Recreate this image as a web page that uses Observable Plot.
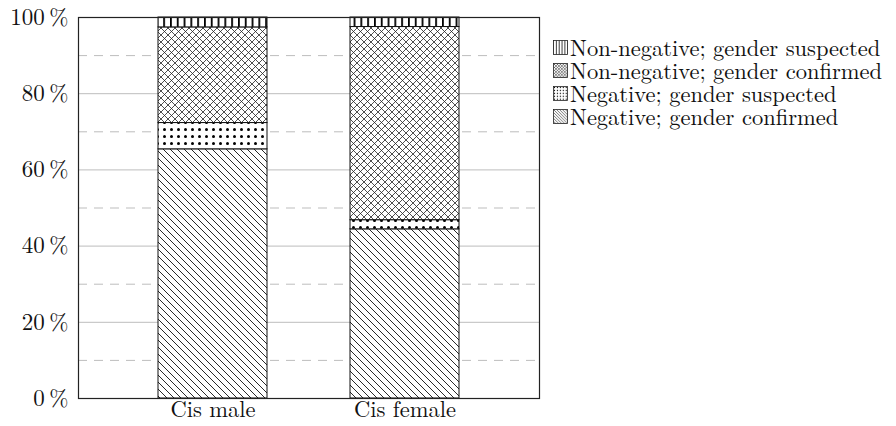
<!DOCTYPE html>
<html>
<head>
<meta charset="utf-8">
<script src="https://cdn.jsdelivr.net/npm/d3@7"></script>
<script src="https://cdn.jsdelivr.net/npm/@observablehq/plot@0.6"></script>
<style>
  html, body { margin: 0; padding: 0; background: #fff; }
  #wrap { position: relative; width: 896px; height: 426px; font-family: 'Latin Modern Roman', 'Liberation Serif', serif; }
  #chart { position: absolute; left: 0; top: 0; }
  #legend { position: absolute; left: 553px; top: 36px; font-size: 22.5px; color: #111; }
  .item { display: flex; align-items: center; height: 23px; white-space: nowrap; }
  .item svg { margin-right: 2px; flex: none; }
  .item span { display: inline-block; height: 23px; line-height: 23px; overflow: visible; }
</style>
</head>
<body>
<div id="wrap"><div id="chart"></div><div id="legend"></div></div>
<script>
const categories = ["Cis male", "Cis female"];
const seriesNames = [
  "Negative; gender confirmed",
  "Negative; gender suspected",
  "Non-negative; gender confirmed",
  "Non-negative; gender suspected"
];
const cisMale = [65.4, 6.9, 25.1, 2.6];
const cisFemale = [44.4, 2.4, 50.7, 2.5];
const yTicks = [0, 20, 40, 60, 80, 100];
const majorGrid = [20, 40, 60, 80];
const minorGrid = [10, 30, 50, 70, 90];
const patternIds = ["pNWLines", "pDots", "pCross", "pVLines"];

const table = [];
[cisMale, cisFemale].forEach((vals, i) => {
  vals.forEach((v, j) => table.push({category: categories[i], series: seriesNames[j], value: v}));
});

const FONT = "'Latin Modern Roman', 'Liberation Serif', serif";

const chart = Plot.plot({
  width: 545,
  height: 426,
  marginLeft: 78,
  marginRight: 6,
  marginTop: 17,
  marginBottom: 28,
  style: {fontFamily: FONT, fontSize: "23px", color: "#111", background: "#fff"},
  x: {domain: categories, paddingInner: 0.432, paddingOuter: 0.414, label: null},
  y: {domain: [0, 100], label: null},
  color: {type: "ordinal", domain: seriesNames, range: patternIds.map(id => `url(#${id})`)},
  marks: [
    Plot.ruleY(minorGrid, {stroke: "#bdbdbd", strokeWidth: 1, strokeDasharray: "9,7"}),
    Plot.ruleY(majorGrid, {stroke: "#bdbdbd", strokeWidth: 1}),
    Plot.barY(table, Plot.stackY({x: "category", y: "value", fill: "series", stroke: "#111", strokeWidth: 1})),
    Plot.axisY({ticks: yTicks, tickSize: 0, tickPadding: 10, tickFormat: d => d + "\u2009%", fontSize: 23, fontFamily: FONT}),
    Plot.axisX({tickSize: 0, tickPadding: 3, fontSize: 22.5, fontFamily: FONT}),
    Plot.frame({stroke: "#222", strokeWidth: 1.2})
  ]
});

// pattern definitions
const svg = d3.select(chart);
const defs = svg.insert("defs", ":first-child");
function base(id, w, h, s) {
  const p = defs.append("pattern").attr("id", id).attr("patternUnits", "userSpaceOnUse")
    .attr("width", w).attr("height", h);
  if (s !== 1) p.attr("patternTransform", `scale(${s})`);
  p.append("rect").attr("width", w).attr("height", h).attr("fill", "#fff");
  return p;
}
function makePatterns(suffix, s) {
  {
    const p = base("pNWLines" + suffix, 7, 7, s);
    p.append("path").attr("d", "M-1,-1L8,8M-8,-1L1,8M6,-1L15,8").attr("stroke", "#111").attr("stroke-width", 0.9 / Math.sqrt(s));
  }
  {
    const p = base("pDots" + suffix, 7, 7, s);
    p.append("circle").attr("cx", 3.5).attr("cy", 3.5).attr("r", 1.5).attr("fill", "#000");
  }
  {
    const p = base("pCross" + suffix, 7, 7, s);
    p.append("path").attr("d", "M-1,-1L8,8M-8,-1L1,8M6,-1L15,8M-1,8L8,-1M-8,8L1,-1M6,8L15,-1").attr("stroke", "#222").attr("stroke-width", 0.8 / Math.sqrt(s));
  }
  {
    const p = base("pVLines" + suffix, 6.8, 6.8, s);
    p.append("rect").attr("x", 0).attr("width", 1.8).attr("height", 6.8).attr("fill", "#000");
  }
}
makePatterns("", 1);
makePatterns("L", 0.42);
document.getElementById("chart").appendChild(chart);

// legend
const legend = d3.select("#legend");
for (let j = seriesNames.length - 1; j >= 0; j--) {
  const item = legend.append("div").attr("class", "item");
  const s = item.append("svg").attr("width", 15).attr("height", 15);
  s.append("rect").attr("x", 0.5).attr("y", 0.5).attr("width", 14).attr("height", 14)
    .attr("fill", `url(#${patternIds[j]}L)`).attr("stroke", "#222").attr("stroke-width", 0.8);
  item.append("span").text(seriesNames[j]);
}
</script>
</body>
</html>
